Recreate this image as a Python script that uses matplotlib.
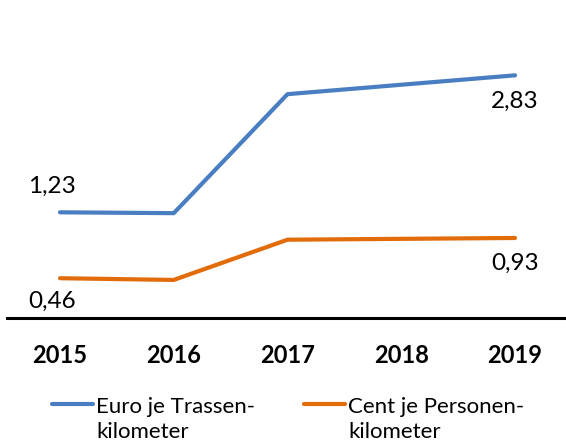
import matplotlib
matplotlib.use('Agg')
import matplotlib.pyplot as plt
from matplotlib.lines import Line2D

plt.rcParams['font.family'] = ['Lato', 'DejaVu Sans']

jahre = ['2015', '2016', '2017', '2018', '2019']
euro_trassenkm = [1.23, 1.22, 2.61, 2.72, 2.83]
cent_personenkm = [0.46, 0.44, 0.91, 0.92, 0.93]
reihen = [
    (euro_trassenkm, '#4a7ec3', ['Euro je Trassen-', 'kilometer']),
    (cent_personenkm, '#e36c0a', ['Cent je Personen-', 'kilometer']),
]

W, H = 566, 445


def fmt(v):
    return f'{v:.2f}'.replace('.', ',')


fig = plt.figure(figsize=(W / 100, H / 100), dpi=100)
ax = fig.add_axes([7 / W, 1 - 317.6 / H, 1 - 7 / W, 317.6 / H])

x = list(range(len(jahre)))
for werte, farbe, _ in reihen:
    ax.plot(x, werte, color=farbe, lw=3, solid_capstyle='round')

ax.set_xlim(-0.466, 4.448)
ax.set_ylim(0, 3.71)

# Werte am Anfang und Ende der Reihen
kw = dict(textcoords='offset points', ha='center', va='center', fontsize=17.5)
ax.annotate(fmt(euro_trassenkm[0]), (x[0], euro_trassenkm[0]), xytext=(-6, 19), **kw)
ax.annotate(fmt(euro_trassenkm[-1]), (x[-1], euro_trassenkm[-1]), xytext=(0, -19), **kw)
ax.annotate(fmt(cent_personenkm[0]), (x[0], cent_personenkm[0]), xytext=(-6, -17), **kw)
ax.annotate(fmt(cent_personenkm[-1]), (x[-1], cent_personenkm[-1]), xytext=(0, -18), **kw)

for s in ['top', 'right', 'left']:
    ax.spines[s].set_visible(False)
ax.spines['bottom'].set_linewidth(2.2)
ax.spines['bottom'].set_color('black')
ax.set_yticks([])
ax.set_xticks(x)
ax.set_xticklabels(jahre, fontsize=17, fontweight='bold')
ax.tick_params(axis='x', length=0, pad=19)

# Legende unter dem Diagramm, Linie vor der ersten Textzeile
for (werte, farbe, zeilen), x0 in zip(reihen, [52, 304]):
    fig.add_artist(Line2D([x0 / W, (x0 + 41) / W], [1 - 404 / H] * 2,
                          transform=fig.transFigure, color=farbe, lw=3,
                          solid_capstyle='round'))
    for i, zeile in enumerate(zeilen):
        fig.text((x0 + 44) / W, 1 - (413 + 25 * i) / H, zeile,
                 fontsize=16, va='baseline', ha='left')

fig.savefig('out.png', dpi=100)
